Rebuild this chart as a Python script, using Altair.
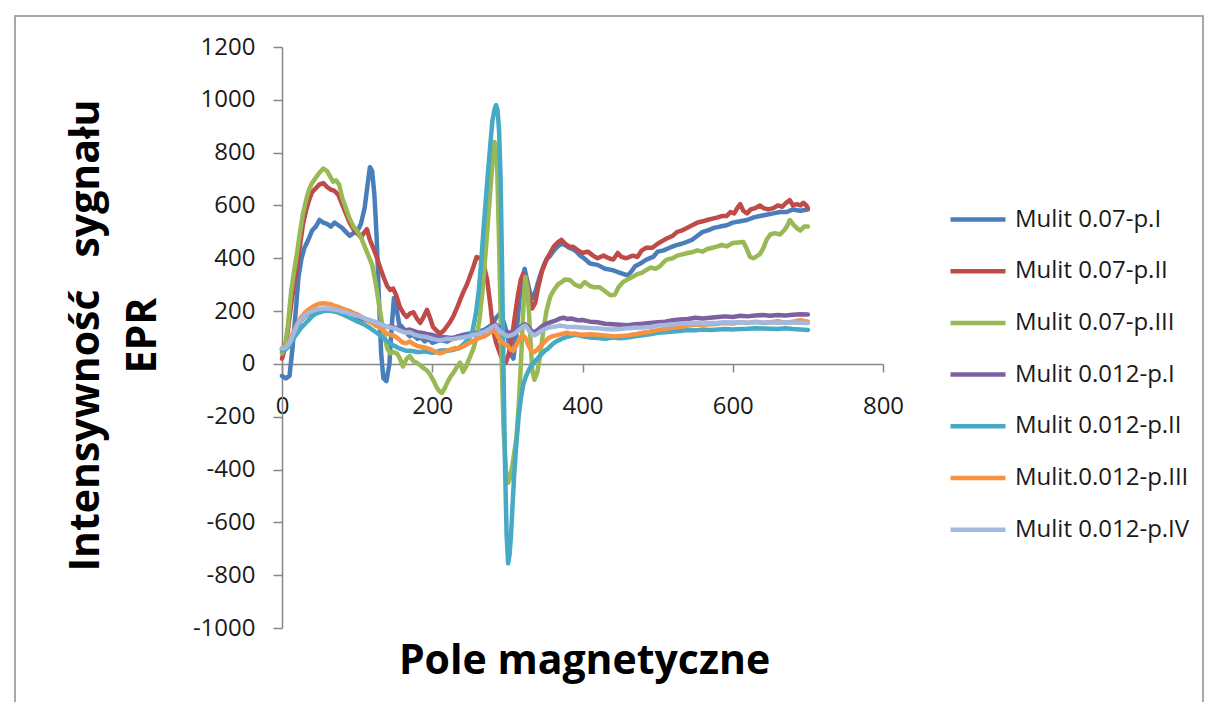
import altair as alt
import pandas as pd

NAMES = ["Mulit 0.07-p.I", "Mulit 0.07-p.II", "Mulit 0.07-p.III", "Mulit 0.012-p.I",
         "Mulit 0.012-p.II", "Mulit.0.012-p.III", "Mulit 0.012-p.IV"]
COLORS = ["#4a7ebb", "#be4b48", "#98b954", "#7d60a0", "#46aac5", "#f69240", "#a3b9e0"]

X_TICKS = [0, 200, 400, 600, 800]
Y_TICKS = [-1000, -800, -600, -400, -200, 0, 200, 400, 600, 800, 1000, 1200]

# --- series 1: Mulit 0.07-p.I (blue)
S1_X = [0, 5, 10, 14, 18, 22, 26, 30, 35, 40, 45, 50, 55, 60, 65, 70, 75, 80, 85, 90, 95, 100, 105, 110,
        114, 117, 120, 123, 126, 129, 132, 135, 139, 143, 146, 149, 153, 156, 160, 165, 170, 175, 180,
        185, 190, 195, 200, 210, 220, 230, 240, 250, 260, 270, 280, 285, 290, 295, 300, 304, 308, 312,
        316, 320, 323, 326, 330, 334, 338, 343, 348, 352, 357, 362, 367, 372, 377, 382, 387, 392, 397,
        402, 410, 420, 430, 440, 450, 455, 460, 465, 470, 477, 485, 494, 500, 508, 516, 525, 532, 539,
        546, 553, 560, 566, 575, 583, 592, 600, 610, 619, 628, 636, 645, 654, 663, 672, 680, 690, 700]
S1_Y = [-45, -55, -45, 60, 190, 330, 400, 440, 470, 505, 520, 545, 535, 530, 520, 535, 525, 515, 500, 485,
        495, 500, 530, 590, 680, 745, 730, 640, 480, 250, 40, -55, -65, 0, 140, 250, 200, 150, 140, 120,
        105, 110, 95, 100, 85, 95, 80, 90, 85, 100, 110, 115, 120, 130, 150, 175, 190, 160, 110, 40, 20,
        110, 240, 330, 360, 320, 270, 250, 280, 330, 370, 395, 410, 430, 445, 455, 450, 440, 435, 425,
        410, 400, 380, 375, 360, 355, 345, 340, 335, 350, 370, 380, 395, 405, 425, 430, 440, 450, 455,
        462, 470, 485, 500, 505, 515, 520, 525, 535, 540, 545, 555, 560, 565, 570, 575, 575, 585, 580, 585]

# --- series 2: Mulit 0.07-p.II (red)
S2_X = [0, 4, 8, 12, 16, 20, 24, 28, 32, 36, 40, 45, 50, 55, 60, 65, 70, 75, 80, 85, 90, 95, 100, 105,
        110, 113, 117, 122, 126, 130, 135, 140, 144, 148, 152, 157, 162, 166, 170, 175, 180, 184, 188,
        193, 197, 201, 206, 210, 215, 219, 224, 228, 234, 241, 246, 250, 255, 259, 263, 266, 269, 273,
        277, 281, 285, 290, 294, 298, 302, 306, 310, 314, 318, 321, 325, 329, 333, 337, 341, 346, 352,
        357, 362, 367, 372, 377, 382, 388, 394, 400, 407, 414, 420, 428, 435, 441, 447, 452, 458, 467,
        473, 479, 485, 493, 500, 506, 512, 520, 526, 532, 539, 546, 553, 560, 566, 573, 580, 586, 592,
        597, 602, 606, 610, 614, 619, 624, 630, 636, 641, 647, 654, 660, 666, 671, 676, 680, 685, 690,
        694, 698, 700]
S2_Y = [20, 60, 130, 220, 300, 370, 450, 530, 580, 620, 650, 665, 680, 685, 670, 660, 655, 640, 605, 570,
        535, 510, 495, 480, 500, 510, 470, 435, 405, 370, 330, 295, 280, 285, 260, 215, 190, 178, 190,
        195, 170, 155, 175, 205, 175, 140, 125, 115, 125, 140, 160, 180, 220, 270, 300, 330, 370, 405,
        400, 405, 370, 320, 230, 130, 80, 40, 10, 5, 40, 100, 180, 260, 320, 340, 320, 260, 210, 230,
        290, 350, 395, 420, 445, 460, 470, 455, 445, 443, 430, 420, 425, 410, 400, 410, 400, 395, 420,
        405, 400, 410, 405, 430, 440, 440, 455, 465, 475, 485, 500, 505, 515, 525, 535, 540, 545, 550,
        555, 560, 560, 575, 570, 590, 605, 580, 570, 585, 590, 600, 590, 585, 590, 600, 595, 610, 620,
        600, 605, 600, 610, 600, 590]

# --- series 3: Mulit 0.07-p.III (green)
S3_X = [0, 4, 8, 12, 16, 20, 24, 28, 32, 36, 40, 45, 50, 55, 60, 64, 68, 72, 76, 80, 85, 90, 95, 100,
        105, 110, 115, 120, 125, 130, 135, 140, 144, 148, 153, 157, 161, 166, 170, 175, 179, 184, 188,
        193, 197, 202, 206, 210, 213, 217, 221, 225, 229, 233, 237, 241, 245, 250, 255, 259, 263, 267,
        271, 275, 279, 283, 286, 289, 292, 295, 298, 301, 304, 308, 312, 315, 318, 321, 324, 327, 330,
        333, 336, 340, 344, 348, 352, 357, 362, 367, 372, 377, 383, 390, 397, 403, 410, 416, 423, 430,
        437, 443, 448, 454, 460, 467, 473, 479, 485, 491, 497, 503, 508, 512, 520, 526, 533, 540, 547,
        553, 560, 566, 573, 580, 585, 592, 600, 607, 614, 618, 623, 628, 633, 636, 641, 645, 650, 656,
        663, 668, 672, 676, 680, 685, 690, 695, 700]
S3_Y = [40, 60, 150, 270, 350, 420, 500, 570, 620, 660, 685, 705, 725, 740, 730, 710, 690, 695, 680, 630,
        590, 550, 520, 505, 480, 445, 410, 375, 300, 210, 120, 60, 40, 45, 40, 20, -10, 20, 30, 10, 5,
        -5, -15, -25, -40, -65, -90, -105, -110, -90, -65, -45, -30, -10, 5, -30, -10, 25, 60, 100, 170,
        280, 420, 570, 720, 840, 800, 450, 50, -250, -400, -450, -430, -360, -280, -160, 0, 200, 330,
        280, 130, -20, -60, -30, 40, 130, 200, 255, 280, 300, 310, 320, 318, 300, 292, 310, 295, 290,
        290, 275, 260, 262, 290, 310, 320, 330, 340, 345, 356, 365, 360, 370, 385, 395, 400, 410, 415,
        420, 424, 430, 425, 435, 440, 445, 451, 445, 458, 460, 462, 440, 405, 400, 410, 415, 440, 470,
        490, 495, 490, 505, 520, 545, 530, 515, 505, 520, 520]

# --- series 4: Mulit 0.012-p.I (purple)
S4_X = [0, 5, 10, 15, 20, 25, 30, 35, 40, 45, 50, 55, 60, 65, 70, 75, 80, 85, 90, 95, 100, 105, 110, 115,
        120, 125, 130, 135, 140, 145, 150, 155, 160, 165, 170, 175, 180, 185, 190, 195, 200, 205, 210,
        215, 220, 225, 230, 235, 240, 245, 250, 255, 260, 265, 270, 275, 280, 284, 288, 292, 296, 300,
        305, 310, 315, 320, 324, 328, 332, 336, 340, 345, 350, 355, 360, 365, 370, 375, 380, 385, 390,
        395, 400, 410, 420, 430, 440, 450, 460, 470, 480, 490, 500, 510, 520, 530, 540, 550, 560, 570,
        580, 590, 600, 610, 620, 630, 640, 650, 660, 670, 680, 690, 700]
S4_Y = [55, 60, 75, 110, 140, 165, 180, 190, 198, 202, 205, 206, 205, 203, 200, 195, 190, 188, 183, 180,
        178, 172, 168, 163, 160, 155, 152, 145, 140, 142, 138, 135, 132, 128, 130, 125, 120, 118, 115,
        112, 110, 105, 100, 102, 100, 98, 100, 105, 103, 108, 110, 112, 115, 118, 120, 128, 140, 150,
        140, 130, 125, 118, 120, 125, 135, 145, 150, 140, 125, 120, 128, 140, 150, 155, 160, 165, 172,
        175, 170, 172, 168, 165, 166, 160, 158, 152, 150, 148, 146, 150, 152, 155, 158, 160, 165, 168,
        170, 175, 172, 175, 178, 180, 178, 182, 180, 183, 185, 182, 185, 183, 186, 188, 187]

# --- series 5: Mulit 0.012-p.II (teal)
S5_X = [0, 5, 10, 15, 20, 25, 30, 35, 40, 45, 50, 55, 60, 65, 70, 75, 80, 85, 90, 95, 100, 105, 110, 115,
        120, 125, 130, 135, 140, 145, 150, 155, 160, 165, 170, 175, 180, 185, 190, 195, 200, 205, 210,
        215, 220, 225, 230, 235, 240, 245, 250, 254, 258, 262, 265, 268, 271, 274, 277, 280, 283, 285,
        287, 289, 291, 293, 295, 297, 299, 301, 303, 305, 307, 309, 312, 315, 318, 321, 325, 330, 335,
        340, 345, 350, 355, 360, 365, 370, 375, 380, 385, 390, 395, 400, 410, 420, 430, 440, 450, 460,
        470, 480, 490, 500, 510, 520, 530, 540, 550, 560, 570, 580, 590, 600, 610, 620, 630, 640, 650,
        660, 670, 680, 690, 700]
S5_Y = [50, 55, 70, 95, 115, 135, 150, 165, 180, 190, 195, 200, 202, 200, 198, 195, 188, 182, 175, 168,
        160, 155, 148, 140, 130, 120, 110, 98, 85, 75, 68, 60, 55, 50, 50, 48, 45, 45, 48, 45, 42, 45,
        50, 52, 50, 52, 55, 60, 70, 85, 100, 130, 190, 280, 380, 500, 610, 720, 820, 920, 965, 980, 960,
        880, 700, 350, -50, -400, -650, -755, -720, -640, -530, -420, -300, -200, -130, -80, -45, -15, 5,
        20, 35, 50, 60, 75, 85, 92, 98, 103, 106, 110, 108, 105, 100, 98, 95, 100, 97, 100, 105, 108,
        112, 118, 120, 123, 125, 128, 127, 130, 128, 130, 132, 130, 132, 133, 135, 134, 133, 132, 135,
        132, 130, 128]

# --- series 6: Mulit.0.012-p.III (orange)
S6_X = [0, 5, 10, 15, 20, 25, 30, 35, 40, 45, 50, 55, 60, 65, 70, 75, 80, 85, 90, 95, 100, 105, 110, 115,
        120, 125, 130, 135, 140, 145, 150, 155, 160, 165, 170, 175, 180, 185, 190, 195, 200, 205, 210,
        215, 220, 225, 230, 235, 240, 245, 250, 255, 260, 265, 270, 275, 280, 284, 288, 292, 296, 300,
        304, 308, 312, 316, 320, 324, 328, 332, 336, 340, 345, 350, 355, 360, 365, 370, 375, 380, 385,
        390, 395, 400, 410, 420, 430, 440, 450, 460, 470, 480, 490, 500, 510, 520, 530, 540, 550, 560,
        570, 580, 590, 600, 610, 620, 630, 640, 650, 660, 670, 680, 690, 700]
S6_Y = [60, 65, 85, 120, 150, 175, 192, 205, 215, 222, 228, 230, 228, 226, 220, 216, 210, 205, 200, 193,
        188, 180, 172, 162, 155, 145, 138, 125, 115, 110, 105, 95, 82, 78, 85, 75, 68, 65, 62, 58, 52,
        45, 40, 45, 50, 55, 60, 58, 65, 72, 80, 88, 95, 100, 105, 115, 125, 120, 100, 85, 75, 70, 55,
        50, 70, 95, 108, 100, 70, 48, 45, 55, 70, 85, 98, 105, 108, 112, 115, 118, 113, 115, 112, 110,
        112, 110, 108, 105, 106, 108, 112, 118, 122, 128, 132, 138, 140, 145, 148, 148, 150, 152, 155,
        153, 158, 155, 160, 155, 158, 162, 155, 160, 165, 160]

# --- series 7: Mulit 0.012-p.IV (light blue)
S7_X = [0, 5, 10, 15, 20, 25, 30, 35, 40, 45, 50, 55, 60, 65, 70, 75, 80, 85, 90, 95, 100, 105, 110, 115,
        120, 125, 130, 135, 140, 145, 150, 155, 160, 165, 170, 175, 180, 185, 190, 195, 200, 205, 210,
        215, 220, 225, 230, 235, 240, 245, 250, 255, 260, 265, 270, 275, 280, 284, 288, 292, 296, 300,
        305, 310, 315, 320, 324, 328, 332, 336, 340, 345, 350, 355, 360, 365, 370, 375, 380, 390, 400,
        410, 420, 430, 440, 450, 460, 470, 480, 490, 500, 510, 520, 530, 540, 550, 560, 570, 580, 590,
        600, 610, 620, 630, 640, 650, 660, 670, 680, 690, 700]
S7_Y = [58, 62, 80, 112, 145, 168, 182, 193, 200, 205, 208, 210, 210, 208, 206, 203, 198, 195, 190, 186,
        182, 178, 172, 168, 163, 158, 152, 146, 140, 138, 135, 128, 122, 118, 120, 112, 108, 105, 103,
        100, 95, 92, 90, 92, 95, 93, 95, 98, 100, 103, 105, 110, 112, 118, 122, 130, 140, 145, 130, 120,
        112, 105, 108, 115, 128, 140, 145, 130, 115, 108, 115, 125, 132, 138, 140, 142, 145, 143, 140,
        140, 138, 136, 135, 132, 130, 132, 135, 137, 138, 140, 145, 147, 150, 152, 153, 155, 153, 155,
        156, 158, 157, 158, 156, 158, 157, 158, 156, 158, 157, 156, 155]

XS = [S1_X, S2_X, S3_X, S4_X, S5_X, S6_X, S7_X]
YS = [S1_Y, S2_Y, S3_Y, S4_Y, S5_Y, S6_Y, S7_Y]

rows = []
for i, (name, xs, ys) in enumerate(zip(NAMES, XS, YS)):
    for k, (a, b) in enumerate(zip(xs, ys)):
        rows.append({"series": name, "x": a, "y": b, "k": k})
df = pd.DataFrame(rows)

FONT = "Open Sans"

lines = alt.Chart(df).mark_line(strokeWidth=4.5, strokeJoin="round", strokeCap="round").encode(
    x=alt.X("x:Q",
            scale=alt.Scale(domain=[0, 800], nice=False, zero=False),
            axis=alt.Axis(values=X_TICKS, offset=-264, grid=False,
                          domainColor="#868686", domainWidth=1.5,
                          tickColor="#868686", tickWidth=1.5, tickSize=8,
                          labelPadding=22, labelFont=FONT, labelFontSize=24, labelColor="#1a1a1a",
                          labelFlush=False, labelOverlap=False, labelExpr="'' + datum.value",
                          title="Pole magnetyczne", titleFont=FONT, titleFontSize=41,
                          titleFontWeight="bold", titleColor="#000000",
                          titleX=302, titleY=309, titleAlign="center", titleBaseline="alphabetic")),
    y=alt.Y("y:Q",
            scale=alt.Scale(domain=[-1000, 1200], nice=False, zero=False),
            axis=alt.Axis(values=Y_TICKS, grid=False,
                          domainColor="#868686", domainWidth=1.5,
                          tickColor="#868686", tickWidth=1.5, tickSize=9,
                          labelPadding=18, labelFont=FONT, labelFontSize=24, labelColor="#1a1a1a",
                          labelFlush=False, labelOverlap=False, labelExpr="'' + datum.value",
                          title=["Intensywność\u00a0\u00a0 sygnału", "EPR"], titleFont=FONT,
                          titleFontSize=41, titleFontWeight="bold", titleColor="#000000",
                          titleAngle=270, titleX=-184, titleY=288, titleAlign="center",
                          titleBaseline="alphabetic", titleLineHeight=57)),
    color=alt.Color("series:N",
                    scale=alt.Scale(domain=NAMES, range=COLORS),
                    legend=alt.Legend(title=None, orient="none", legendX=678.5, legendY=155,
                                      symbolType="M-1.833,0H1.833", symbolSize=900,
                                      symbolStrokeWidth=4.5, labelOffset=19.5, rowPadding=21.7,
                                      padding=0, labelFont=FONT, labelFontSize=24,
                                      labelColor="#1a1a1a", labelLimit=400)),
    order=alt.Order("k:Q"),
)

frame = alt.Chart(pd.DataFrame({"a": [0]})).mark_rect(
    fillOpacity=0, stroke="#8c8c8c", strokeWidth=1.5
).encode(x=alt.value(-267), x2=alt.value(921), y=alt.value(-31), y2=alt.value(665))

chart = alt.layer(frame, lines).properties(
    width=601, height=581,
    autosize=alt.AutoSizeParams(type="none"),
    padding={"left": 282, "top": 47, "right": 331, "bottom": 74},
    background="white",
).configure_view(strokeWidth=0)

chart.save("out.html", embed_options={"renderer": "svg", "actions": False})
